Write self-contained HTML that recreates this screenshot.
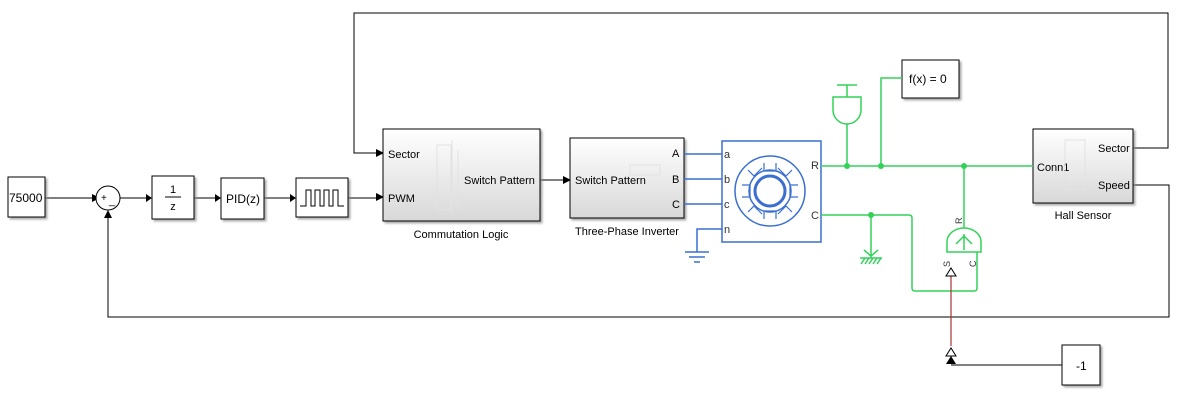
<!DOCTYPE html>
<html><head><style>
body{margin:0;background:#fff;}
svg{display:block;font-family:"Liberation Sans",sans-serif;}
</style></head><body>
<svg width="1180" height="405" viewBox="0 0 1180 405" xmlns="http://www.w3.org/2000/svg">
<defs>
<linearGradient id="g" x1="0" y1="0" x2="0" y2="1"><stop offset="0" stop-color="#fff"/><stop offset="1" stop-color="#d8d8d8"/></linearGradient>
<filter id="sh"><feDropShadow dx="2" dy="2" stdDeviation="1" flood-color="#888" flood-opacity="0.7"/></filter>
</defs>
<g fill="none" stroke="#000" stroke-width="1">
<path d="M45 198H92"/><path d="M120 198H146"/><path d="M194 198H215"/><path d="M264 198H290"/><path d="M348 198H378"/>
<path d="M540 180H565"/>
<path d="M1133 148H1168V13H354V153H378"/>
<path d="M1133 185H1169V317H108V216"/>
<path d="M951 365H1062"/>
</g>
<g fill="#000">
<path d="M92 194L100 198L92 202Z"/><path d="M146 194L152 198L146 202Z"/><path d="M215 194L221 198L215 202Z"/><path d="M290 194L296 198L290 202Z"/><path d="M376 193L384 197L376 201Z"/><path d="M376 149L384 153L376 157Z"/><path d="M563 176L571 180L563 184Z"/><path d="M104 218L108 210L112 218Z"/>
<path d="M946 364L951 356L956 364Z"/>
</g>
<path d="M946 356L951 348L956 356Z" fill="#fff" stroke="#000"/>
<g stroke="#000" fill="#fff" filter="url(#sh)">
<rect x="8" y="177" width="37" height="40"/>
<rect x="152" y="176" width="42" height="43"/>
<rect x="221" y="178" width="43" height="41"/>
<rect x="296" y="178" width="52" height="39"/>
<rect x="383" y="129" width="157" height="92" fill="url(#g)"/>
<rect x="570" y="138" width="114" height="80" fill="url(#g)"/>
<rect x="1033" y="129" width="100" height="74" fill="url(#g)"/>
<rect x="902" y="60" width="57" height="38"/>
<rect x="1062" y="345" width="38" height="40"/>
</g>
<circle cx="108" cy="198" r="12" fill="#fff" stroke="#000"/>
<text x="101" y="201" font-size="10">+</text><text x="109" y="204" font-size="11">_</text>
<g font-size="12" fill="#000">
<text x="9" y="202">75000</text>
<text x="173" y="193" text-anchor="middle" font-size="11">1</text>
<line x1="165" y1="197" x2="181" y2="197" stroke="#000"/>
<text x="173" y="210" text-anchor="middle" font-size="11">z</text>
<text x="226" y="203">PID(z)</text>
<path d="M300 206H306V190H311V206H315V190H320V206H324V190H329V206H333V190H338V206H344" fill="none" stroke="#000"/>
<text x="388" y="158" font-size="11">Sector</text>
<text x="388" y="202" font-size="11">PWM</text>
<text x="464" y="184" font-size="11">Switch Pattern</text>
<text x="461" y="238" text-anchor="middle" font-size="11">Commutation Logic</text>
<text x="575" y="184" font-size="11">Switch Pattern</text>
<text x="672" y="157" font-size="11">A</text><text x="672" y="183" font-size="11">B</text><text x="672" y="208" font-size="11">C</text>
<text x="627" y="235" text-anchor="middle" font-size="11">Three-Phase Inverter</text>
<text x="1037" y="171" font-size="11">Conn1</text>
<text x="1098" y="152" font-size="11">Sector</text>
<text x="1098" y="189" font-size="11">Speed</text>
<text x="1083" y="219" text-anchor="middle" font-size="11">Hall Sensor</text>
<text x="909" y="83" font-size="12">f(x) = 0</text>
<text x="1076" y="370" font-size="12">-1</text>
</g>
<g stroke="#e2e2e2" fill="none"><rect x="437" y="145" width="14" height="65"/><path d="M452 140V215M458 150V210"/><rect x="630" y="165" width="30" height="10"/><rect x="1065" y="140" width="20" height="50"/></g>
<g stroke="#3a6fd0" fill="none" stroke-width="1.5">
<path d="M684 154H722M684 179H722M684 204H722M722 229H697V252"/>
<rect x="722" y="141" width="99" height="101"/>
<circle cx="770" cy="191" r="35"/><circle cx="770" cy="191" r="15" stroke-width="3"/><circle cx="770" cy="191" r="21"/>
<g stroke-width="1.2">
<path d="M764 163V171H776V163"/><path d="M764 219V211H776V219"/>
<path d="M742 185H750V197H742"/><path d="M798 185H790V197H798"/>
<path d="M748 170L754 176L762 168"/><path d="M792 170L786 176L778 168"/>
<path d="M748 212L754 206L762 214"/><path d="M792 212L786 206L778 214"/>
</g>
<path d="M685 252H709M689 257H705M694 262H700"/>
</g>
<g font-size="11" fill="#333"><text x="724" y="158">a</text><text x="724" y="183">b</text><text x="724" y="208">c</text><text x="724" y="233">n</text><text x="811" y="169">R</text><text x="811" y="219">C</text></g>
<g stroke="#33d15a" fill="none" stroke-width="1.5">
<path d="M821 166H1033"/>
<path d="M881 166V78H902"/>
<path d="M847 166V124"/>
<path d="M837 85H857M847 85V97M833 97H861V110A14 14 0 0 1 833 110Z"/>
<path d="M821 215H909Q912 215 912 218V288Q912 291 915 291H974Q977 291 977 288V252"/>
<path d="M871 215V258M860 258H882M861 264L865 258M865 264L869 258M869 264L873 258M873 264L877 258M877 264L881 258M864 250L871 256L878 250"/>
<path d="M964 166V228M947 252V242A17 14 0 0 1 981 242V252Z"/>
<path d="M964 250V234M956 244L964 236L972 244"/>
</g>
<g fill="#33d15a"><circle cx="847" cy="166" r="3"/><circle cx="881" cy="166" r="3"/><circle cx="964" cy="166" r="3"/><circle cx="871" cy="215" r="3"/></g>
<g font-size="9" fill="#333"><text transform="translate(962 224) rotate(-90)">R</text><text transform="translate(950 267) rotate(-90)">S</text><text transform="translate(976 267) rotate(-90)">C</text></g>
<path d="M951 272V346" stroke="#a33" stroke-width="1.2"/>
<path d="M946 276L951 268L956 276Z" fill="#fff" stroke="#000"/>
</svg>
</body></html>
